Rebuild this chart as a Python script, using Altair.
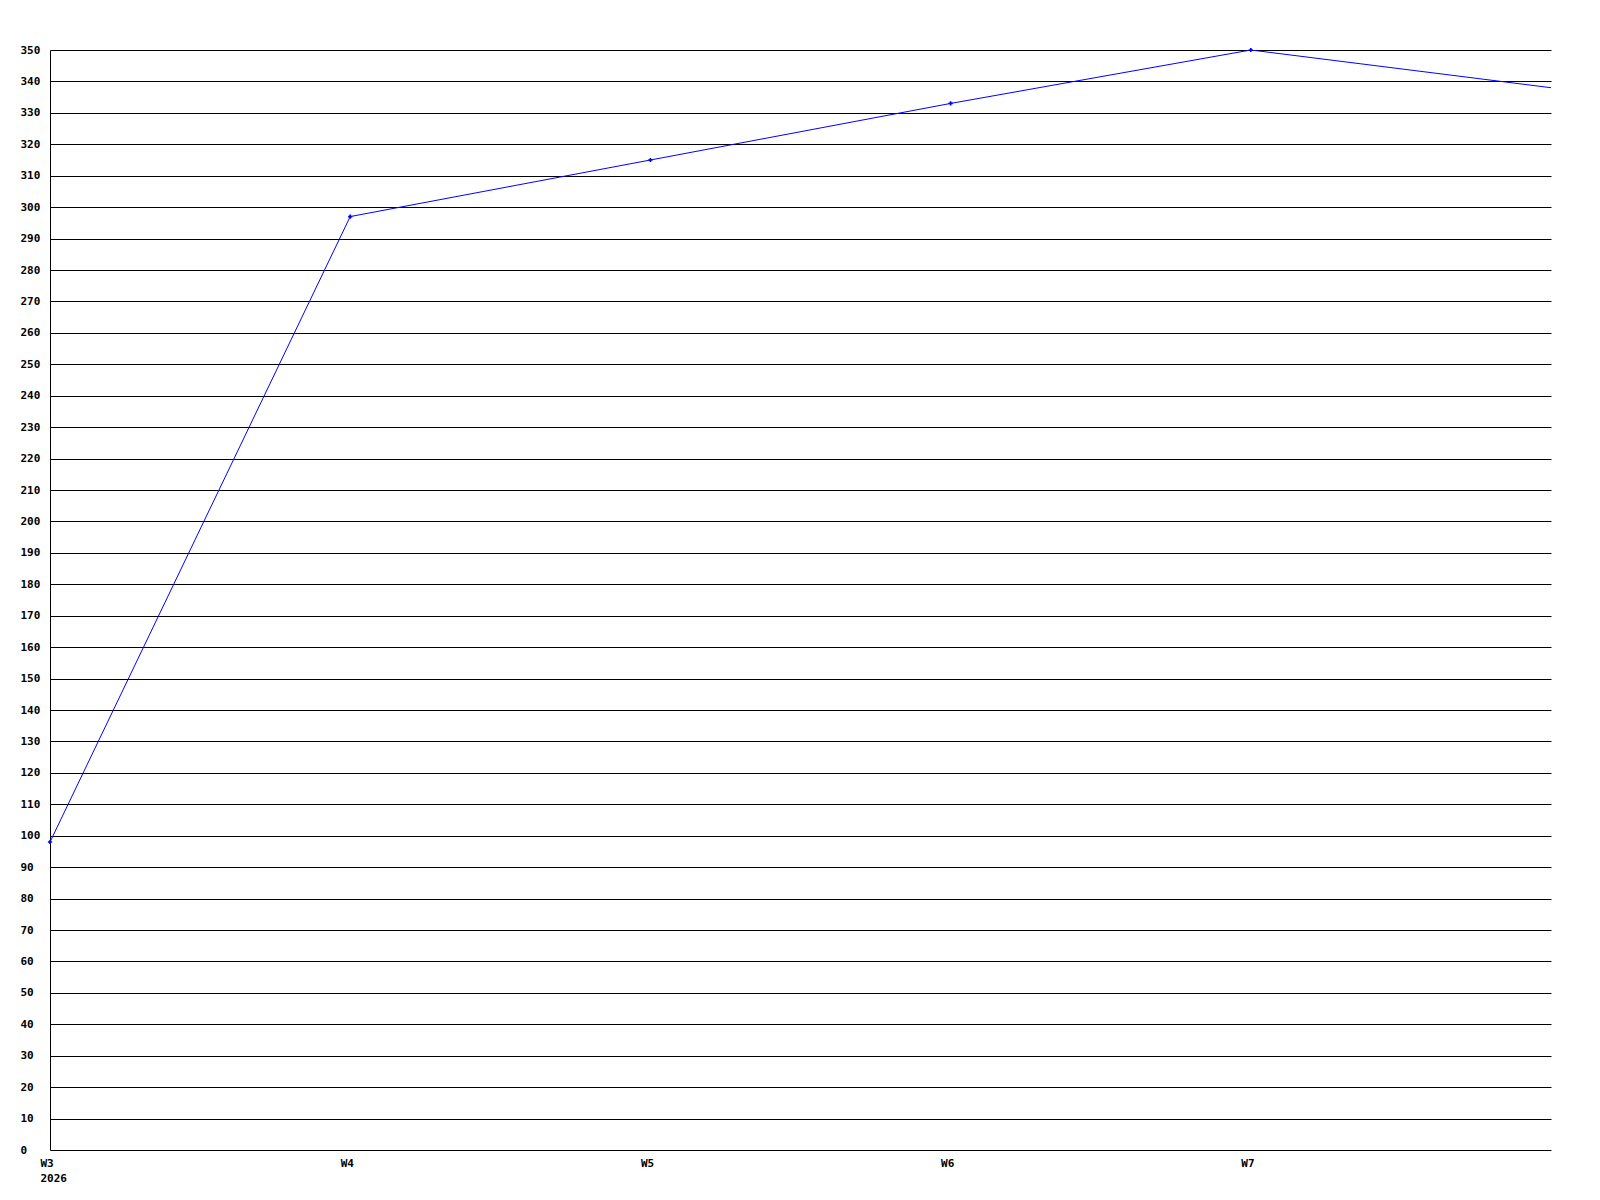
import altair as alt
import pandas as pd

weeks = [3, 4, 5, 6, 7, 8]
values = [98, 297, 315, 333, 350, 338]
year_label = "2026"

df = pd.DataFrame({"week": weeks, "value": values})

font = "DejaVu Sans Mono"

x_enc = alt.X(
    "week:Q",
    scale=alt.Scale(domain=[3, 8], nice=False, zero=False),
    axis=alt.Axis(
        values=[3, 4, 5, 6, 7],
        labelExpr=f"datum.value == 3 ? ['W3', '{year_label}'] : 'W' + datum.value",
        grid=False,
        ticks=False,
        domain=False,
        labelAlign="left",
        labelBaseline="top",
        labelOffset=-10,
        labelPadding=7,
        labelLineHeight=15,
        labelOverlap=False,
        labelFlush=False,
        labelFont=font,
        labelFontWeight="bold",
        labelFontSize=11,
        labelColor="black",
        title=None,
    ),
)
y_enc = alt.Y(
    "value:Q",
    scale=alt.Scale(domain=[0, 350], nice=False),
    axis=alt.Axis(
        values=list(range(0, 351, 10)),
        grid=True,
        gridColor="black",
        gridWidth=1,
        gridOpacity=1,
        ticks=False,
        domain=True,
        domainColor="black",
        domainWidth=1,
        labelAlign="left",
        labelPadding=30,
        labelOverlap=False,
        labelFlush=False,
        labelFont=font,
        labelFontWeight="bold",
        labelFontSize=11,
        labelColor="black",
        title=None,
    ),
)

line = alt.Chart(df).mark_line(color="#0000ff", strokeWidth=1, clip=True).encode(x=x_enc, y=y_enc)
pts = (
    alt.Chart(df)
    .transform_filter("datum.week < 8")
    .mark_point(shape="cross", filled=True, color="#0000ff", size=18, opacity=1)
    .encode(x=x_enc, y=y_enc)
)

chart = (
    alt.layer(line, pts)
    .properties(
        width=1501,
        height=1100,
        autosize=alt.AutoSizeParams(type="none"),
        padding={"left": 42, "top": 42, "right": 40, "bottom": 40},
        background="white",
    )
    .configure_view(stroke=None)
)

chart.save("out.html", embed_options={"renderer": "svg", "actions": False})
